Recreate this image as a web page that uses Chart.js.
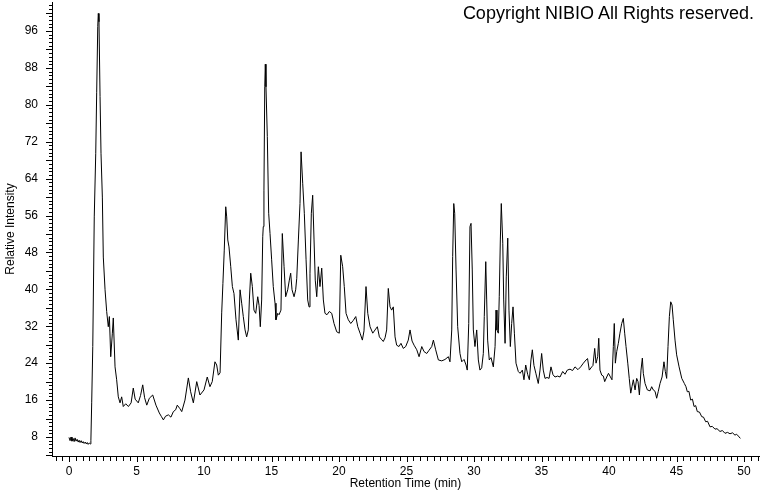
<!DOCTYPE html>
<html>
<head>
<meta charset="utf-8">
<title>Chromatogram</title>
<script src="https://cdn.jsdelivr.net/npm/chart.js@4.4.1/dist/chart.umd.min.js"></script>
<style>
    html, body { margin: 0; padding: 0; background: #fff; }
    #wrap { position: relative; width: 760px; height: 492px; }
    #copy {
        position: absolute; right: 6px; top: 2px;
        font: 18px "Liberation Sans", Arial, sans-serif; color: #000;
        white-space: nowrap; line-height: 22px;
    }
</style>
</head>
<body>
<div id="wrap">
    <canvas id="chroma" width="760" height="492"></canvas>
    <div id="copy">Copyright NIBIO All Rights reserved.</div>
</div>
<script>
// ── data ──────────────────────────────────────────────
const retentionTimes = [
    0.00, 0.08, 0.15, 0.22, 0.30, 0.38, 0.45, 0.52, 0.60, 0.68, 0.75, 0.82, 0.90, 0.98, 1.05, 1.12,
    1.20, 1.28, 1.35, 1.42, 1.50, 1.58, 1.62, 1.68, 1.76, 1.87, 1.98, 2.05, 2.13, 2.17, 2.22, 2.30,
    2.37, 2.47, 2.54, 2.67, 2.79, 2.91, 2.99, 3.09, 3.21, 3.28, 3.41, 3.53, 3.65, 3.78, 3.90, 4.02,
    4.20, 4.40, 4.60, 4.76, 4.90, 5.13, 5.30, 5.46, 5.60, 5.76, 5.95, 6.20, 6.44, 6.69, 6.85, 6.99,
    7.15, 7.36, 7.55, 7.73, 7.90, 8.02, 8.20, 8.35, 8.59, 8.84, 9.01, 9.21, 9.46, 9.70, 10.00, 10.24,
    10.44, 10.61, 10.81, 10.94, 11.06, 11.19, 11.31, 11.40, 11.50, 11.61, 11.68, 11.76, 11.85, 11.98, 12.10, 12.22,
    12.37, 12.54, 12.67, 12.79, 12.91, 13.04, 13.16, 13.28, 13.36, 13.46, 13.58, 13.70, 13.83, 13.98, 14.08, 14.17,
    14.27, 14.35, 14.39, 14.44, 14.50, 14.54, 14.59, 14.69, 14.79, 14.89, 15.01, 15.13, 15.26, 15.33, 15.46, 15.56,
    15.70, 15.80, 15.93, 16.05, 16.20, 16.32, 16.42, 16.52, 16.67, 16.79, 16.87, 16.99, 17.11, 17.19, 17.31, 17.43,
    17.56, 17.68, 17.78, 17.85, 17.95, 18.05, 18.15, 18.24, 18.35, 18.47, 18.59, 18.72, 18.84, 18.96, 19.11, 19.28,
    19.46, 19.63, 19.83, 20.02, 20.13, 20.27, 20.39, 20.52, 20.69, 20.87, 21.04, 21.24, 21.39, 21.56, 21.73, 21.85,
    22.00, 22.13, 22.30, 22.50, 22.67, 22.84, 22.99, 23.13, 23.28, 23.41, 23.53, 23.65, 23.78, 23.90, 24.02, 24.15,
    24.27, 24.44, 24.59, 24.76, 24.94, 25.13, 25.26, 25.41, 25.56, 25.76, 25.93, 26.13, 26.30, 26.50, 26.67, 26.87,
    26.99, 27.16, 27.36, 27.61, 27.85, 28.10, 28.22, 28.35, 28.42, 28.50, 28.57, 28.67, 28.79, 28.96, 29.09, 29.26,
    29.41, 29.50, 29.61, 29.70, 29.78, 29.87, 29.95, 30.07, 30.20, 30.32, 30.44, 30.57, 30.69, 30.76, 30.87, 30.94,
    31.01, 31.13, 31.26, 31.43, 31.56, 31.63, 31.70, 31.80, 31.87, 31.95, 32.02, 32.13, 32.20, 32.30, 32.39, 32.50,
    32.59, 32.69, 32.79, 32.89, 32.99, 33.11, 33.28, 33.41, 33.58, 33.70, 33.83, 33.98, 34.10, 34.22, 34.32, 34.44,
    34.59, 34.76, 34.89, 35.01, 35.13, 35.26, 35.41, 35.56, 35.70, 35.85, 36.00, 36.19, 36.37, 36.57, 36.74, 36.91,
    37.11, 37.30, 37.48, 37.70, 37.90, 38.10, 38.30, 38.41, 38.54, 38.72, 38.81, 38.94, 39.04, 39.16, 39.24, 39.33,
    39.46, 39.58, 39.68, 39.83, 39.96, 40.07, 40.22, 40.32, 40.39, 40.47, 40.57, 40.69, 40.81, 40.94, 41.06, 41.16,
    41.26, 41.39, 41.50, 41.61, 41.70, 41.80, 41.93, 42.05, 42.15, 42.25, 42.37, 42.47, 42.54, 42.67, 42.84, 43.04,
    43.16, 43.28, 43.41, 43.53, 43.65, 43.78, 43.93, 44.07, 44.17, 44.27, 44.37, 44.47, 44.57, 44.67, 44.76, 44.89,
    45.01, 45.19, 45.39, 45.58, 45.70, 45.80, 45.92, 46.05, 46.18, 46.30, 46.42, 46.54, 46.70, 46.87, 47.00, 47.16,
    47.30, 47.48, 47.65, 47.85, 48.00, 48.22, 48.40, 48.59, 48.78, 48.96, 49.15, 49.33, 49.45, 49.58, 49.73
];

const intensities = [
    7.9, 7.2, 8.0, 7.1, 7.7, 7.0, 7.8, 7.1, 7.5, 6.9, 7.3, 6.8, 7.2, 6.7, 7.0, 6.6,
    6.9, 6.5, 6.8, 6.4, 6.7, 6.5, 7.2, 15.4, 27.6, 55.7, 69.5, 82.6, 97.0, 99.8, 98.0, 81.8,
    69.5, 60.0, 47.0, 39.9, 35.2, 31.9, 34.1, 25.4, 30.5, 33.8, 23.2, 20.4, 16.7, 15.4, 16.7, 14.6,
    15.2, 14.6, 15.4, 18.6, 16.2, 15.4, 17.0, 19.3, 16.5, 14.9, 16.4, 17.1, 14.9, 13.2, 12.4, 11.7,
    12.5, 12.8, 12.3, 13.5, 13.9, 14.9, 14.2, 13.5, 16.0, 20.8, 17.8, 15.4, 20.0, 17.1, 18.2, 21.0,
    18.9, 20.0, 24.3, 23.6, 21.4, 21.9, 34.9, 41.3, 48.5, 57.9, 55.7, 50.7, 49.2, 44.9, 40.6, 39.1,
    33.4, 29.0, 39.9, 37.0, 34.1, 31.2, 29.7, 31.2, 37.7, 43.5, 40.6, 35.5, 34.8, 38.4, 36.5, 31.9,
    37.7, 51.4, 53.6, 61.5, 83.9, 88.8, 83.9, 73.1, 56.5, 52.1, 46.4, 40.6, 37.0, 33.4, 34.8, 34.5,
    35.5, 52.1, 44.9, 38.4, 39.9, 42.0, 43.5, 39.9, 38.4, 39.9, 42.4, 50.7, 58.6, 69.8, 63.0, 56.5,
    46.4, 37.7, 36.2, 43.5, 56.5, 60.4, 50.7, 42.0, 38.4, 44.9, 40.6, 44.6, 37.7, 34.8, 34.5, 35.2,
    34.8, 32.6, 30.8, 30.5, 47.4, 44.9, 40.6, 34.8, 33.4, 32.6, 33.2, 34.1, 31.9, 30.5, 29.0, 31.0,
    40.6, 34.8, 31.9, 30.5, 31.2, 31.9, 29.7, 29.2, 28.7, 29.5, 31.2, 40.2, 36.2, 35.5, 36.2, 29.7,
    27.9, 27.6, 28.3, 27.2, 27.6, 29.0, 31.2, 28.8, 27.9, 26.9, 25.4, 27.6, 26.5, 26.1, 26.8, 27.6,
    29.0, 26.9, 24.7, 24.5, 24.8, 25.4, 24.3, 31.2, 47.1, 58.6, 56.5, 44.2, 31.9, 26.1, 24.3, 24.8,
    23.6, 22.5, 32.6, 53.6, 54.3, 44.2, 31.2, 27.6, 31.2, 24.7, 22.5, 23.0, 26.1, 34.1, 46.0, 37.7,
    29.0, 24.7, 25.2, 23.2, 27.6, 35.5, 31.2, 30.5, 38.4, 50.7, 58.6, 50.0, 37.7, 28.3, 42.7, 51.1,
    35.5, 27.6, 32.6, 36.2, 30.5, 24.0, 22.2, 21.8, 22.5, 20.4, 23.6, 21.5, 20.4, 24.7, 26.9, 23.5,
    21.7, 19.6, 22.5, 26.1, 22.5, 20.7, 20.9, 20.7, 23.2, 21.5, 21.0, 21.2, 21.0, 22.2, 21.6, 22.5,
    22.7, 22.4, 23.2, 22.6, 23.2, 24.0, 24.7, 25.0, 22.5, 23.2, 23.5, 27.2, 24.0, 25.4, 29.4, 22.5,
    21.4, 21.2, 20.0, 21.0, 21.8, 21.2, 20.4, 27.6, 32.6, 24.0, 26.5, 28.3, 30.5, 32.6, 33.7, 30.5,
    27.6, 24.0, 20.7, 17.5, 18.9, 20.4, 18.2, 20.7, 20.0, 17.1, 22.5, 25.1, 21.8, 19.6, 18.2, 18.0,
    18.9, 18.2, 17.9, 16.4, 17.9, 19.6, 21.0, 24.3, 22.2, 20.7, 27.6, 34.1, 37.3, 36.6, 33.4, 29.0,
    25.8, 23.2, 20.7, 19.6, 18.9, 17.8, 17.9, 16.0, 16.2, 14.6, 14.8, 13.5, 13.4, 12.4, 12.3, 11.3,
    11.4, 10.2, 10.3, 9.7, 9.8, 9.2, 9.4, 8.8, 9.0, 8.7, 8.9, 8.4, 8.6, 8.2, 7.7
];

// axis ticks
const xTickLabels = [0, 5, 10, 15, 20, 25, 30, 35, 40, 45, 50];
const yTickLabels = [8, 16, 24, 32, 40, 48, 56, 64, 72, 80, 88, 96];
const xMinorStep = 0.5;
const yMinorStep = 0.8;

const FONT = '"Liberation Sans", Arial, sans-serif';

// ── little tick marks outside the axes ────────────────
const tickMarks = {
    id: 'tickMarks',
    afterDraw(chart) {
        const { ctx, scales: { x, y } } = chart;
        ctx.save();
        ctx.strokeStyle = '#000';
        ctx.lineWidth = 1;
        ctx.beginPath();
        for (let k = Math.ceil(x.min / xMinorStep); k * xMinorStep <= x.max; k++) {
            const px = Math.round(x.getPixelForValue(k * xMinorStep)) + 0.5;
            const len = k % 10 === 0 ? 6 : 5;
            ctx.moveTo(px, x.top);
            ctx.lineTo(px, x.top + len);
        }
        for (let k = Math.ceil(y.min / yMinorStep); k * yMinorStep <= y.max; k++) {
            const py = Math.round(y.getPixelForValue(k * yMinorStep)) + 0.5;
            const len = k % 5 === 0 ? 6 : 3;
            ctx.moveTo(y.right, py);
            ctx.lineTo(y.right - len, py);
        }
        ctx.stroke();
        ctx.restore();
    }
};

// fixed axis boxes so the plot area lands where the original one is
function fixBox(size, horizontal) {
    return s => {
        if (horizontal) s.height = size; else s.width = size;
        s.paddingTop = 0;
        s.paddingBottom = 0;
        s.paddingLeft = 0;
        s.paddingRight = 0;
    };
}

new Chart(document.getElementById('chroma'), {
    type: 'line',
    data: {
        datasets: [{
            data: retentionTimes.map((t, i) => ({ x: t, y: intensities[i] })),
            borderColor: '#000',
            borderWidth: 1,
            pointRadius: 0,
            tension: 0,
            fill: false
        }]
    },
    options: {
        responsive: false,
        animation: false,
        devicePixelRatio: 1,
        layout: { padding: { top: 2, right: 1, left: 0, bottom: 0 } },
        plugins: {
            legend: { display: false },
            tooltip: { enabled: false }
        },
        scales: {
            x: {
                type: 'linear',
                min: -1.26,
                max: 51.11,
                afterFit: fixBox(36, true),
                afterBuildTicks: s => { s.ticks = xTickLabels.map(v => ({ value: v })); },
                grid: { display: false, drawTicks: false },
                border: { display: true, color: '#000', width: 1 },
                ticks: { color: '#000', padding: 8, maxRotation: 0, font: { family: FONT, size: 12 } },
                title: {
                    display: true,
                    text: 'Retention Time (min)',
                    color: '#000',
                    font: { family: FONT, size: 12 },
                    padding: { top: 0, bottom: 1 }
                }
            },
            y: {
                min: 3.88,
                max: 102.28,
                afterFit: fixBox(52, false),
                afterBuildTicks: s => { s.ticks = yTickLabels.map(v => ({ value: v })); },
                grid: { display: false, drawTicks: false },
                border: { display: true, color: '#000', width: 1 },
                ticks: { color: '#000', padding: 14, font: { family: FONT, size: 12 } },
                title: {
                    display: true,
                    text: 'Relative Intensity',
                    color: '#000',
                    font: { family: FONT, size: 12 },
                    padding: { top: 3, bottom: 0 }
                }
            }
        }
    },
    plugins: [tickMarks]
});
</script>
</body>
</html>
